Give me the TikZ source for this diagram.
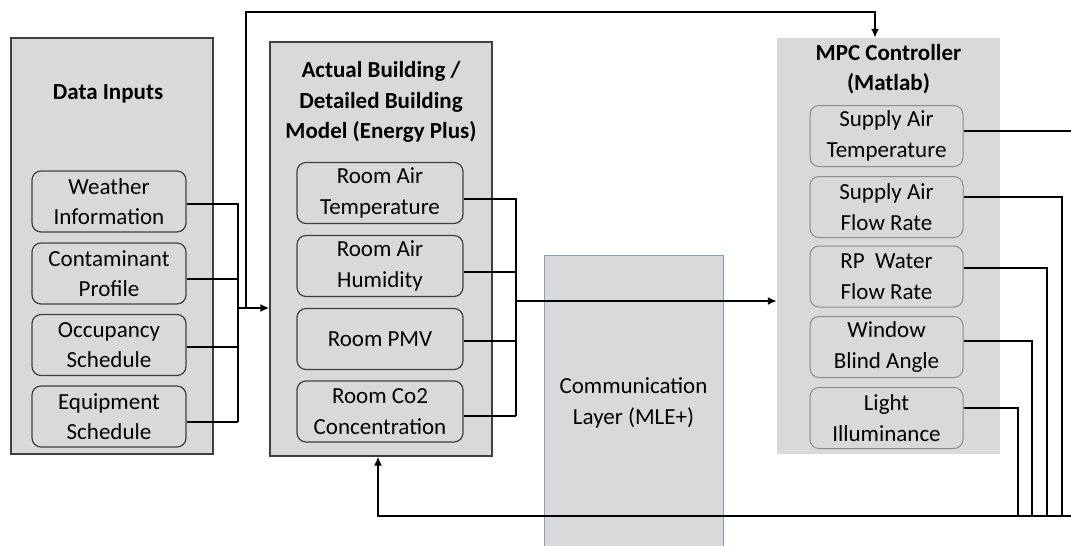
\documentclass[tikz,border=0pt]{standalone}
\usepackage{fontspec}
\setmainfont{Carlito}
\usetikzlibrary{arrows.meta,calc}
\definecolor{boxgray}{HTML}{D9D9D9}
\definecolor{edgedark}{HTML}{404040}
\definecolor{edgelight}{HTML}{8C8C8C}
\definecolor{edgeblue}{HTML}{7F9FC4}
\newcommand\dgfont{\fontsize{23}{30.5}\selectfont}
\begin{document}
\begin{tikzpicture}[x=1pt,y=-1pt,
  outer/.style={draw=edgedark, line width=1.2pt, fill=boxgray, inner sep=0pt},
  sub/.style={draw=edgedark, line width=1.2pt, rounded corners=9pt, fill=boxgray,
    minimum width=154pt, minimum height=61pt, align=center, font=\dgfont, inner sep=0pt},
  subr/.style={sub, draw=edgelight, line width=1pt},
  ttl/.style={align=center, font=\dgfont\bfseries, inner sep=0pt},
  conn/.style={line width=2.8pt, draw=black},
  arr/.style={-{Latex[length=9pt,width=8pt]}}]
\useasboundingbox (0,0) rectangle (1071,546);

% Data inputs
\node[outer, minimum width=202pt, minimum height=416pt] (din) at (112,246) {};
\node[ttl] (dint) at (108,94) {Data Inputs};
\node[sub] (w) at (109,201.5) {Weather\\Information};
\node[sub] (c) at (109,273.5) {Contaminant\\Profile};
\node[sub] (o) at (109,345) {Occupancy\\Schedule};
\node[sub] (q) at (109,416.5) {Equipment\\Schedule};

% Building
\node[outer, minimum width=222pt, minimum height=414pt] (bld) at (381,249) {};
\node[ttl] (bldt) at (381,102) {Actual Building /\\Detailed Building\\Model (Energy Plus)};
\node[sub, minimum width=166pt] (rt) at (380,193) {Room Air\\Temperature};
\node[sub, minimum width=166pt] (rh) at (380,266) {Room Air\\Humidity};
\node[sub, minimum width=166pt] (rp) at (380,339) {Room PMV};
\node[sub, minimum width=166pt] (rc) at (380,411.5) {Room Co2\\Concentration};

% Communication layer
\node[draw=edgeblue, line width=1pt, fill=boxgray, minimum width=179pt, minimum height=310pt, inner sep=0pt] (com) at (633.5,410) {};
\node[align=center, font=\dgfont, inner sep=0pt] (comt) at (633.5,403) {Communication\\Layer (MLE+)};

% MPC
\node[fill=boxgray, minimum width=223pt, minimum height=416pt, inner sep=0pt] (mpc) at (888.5,246) {};
\node[ttl] (mpct) at (888.5,69) {MPC Controller\\(Matlab)};
\node[subr, minimum width=153pt] (sat) at (886.5,136) {Supply Air\\Temperature};
\node[subr, minimum width=153pt] (saf) at (886.5,207) {Supply Air\\Flow Rate};
\node[subr, minimum width=153pt] (rpw) at (886.5,276.5) {RP\ \ Water\\Flow Rate};
\node[subr, minimum width=153pt] (wba) at (886.5,347) {Window\\Blind Angle};
\node[subr, minimum width=153pt] (li) at (886.5,418) {Light\\Illuminance};

% coordinates
\coordinate (busA) at (238,422);
\coordinate (inA) at (238,308);
\coordinate (topL) at (246,308);
\coordinate (topR) at (875,12);
\coordinate (busB) at (516,416);
\coordinate (outB) at (516,301);
\coordinate (e1) at (1071,131);
\coordinate (v1) at (1062,516);
\coordinate (v2) at (1047,516);
\coordinate (v3) at (1032,516);
\coordinate (v4) at (1018,516);
\coordinate (e2) at (1071,516);
\coordinate (fbL) at (378,516);

% data inputs bus
\draw[conn] ([yshift=-2.5pt]w.east) -| (busA);
\draw[conn] ([yshift=-5.5pt]c.east) -| (busA);
\draw[conn] ([yshift=-2pt]o.east) -| (busA);
\draw[conn] ([yshift=-5.5pt]q.east) -- (busA);
\draw[conn,arr] (inA) -- (inA -| bld.west);
\draw[conn,arr] (topL) |- (topR) -- (topR |- mpc.north);

% building bus
\draw[conn] ([yshift=-6pt]rt.east) -| (busB);
\draw[conn] ([yshift=-6pt]rh.east) -| (busB);
\draw[conn] ([yshift=-2pt]rp.east) -| (busB);
\draw[conn] ([yshift=-4.5pt]rc.east) -- (busB);
\draw[conn,arr] (outB) -- (outB -| mpc.west);

% MPC outputs
\draw[conn] ([yshift=5pt]sat.east) -- (e1);
\draw[conn] ([yshift=10pt]saf.east) -| (v1);
\draw[conn] ([yshift=8.5pt]rpw.east) -| (v2);
\draw[conn] ([yshift=6pt]wba.east) -| (v3);
\draw[conn] ([yshift=10pt]li.east) -| (v4);
\draw[conn,arr] (e2) -- (fbL) -- (fbL |- bld.south);
\end{tikzpicture}
\end{document}
